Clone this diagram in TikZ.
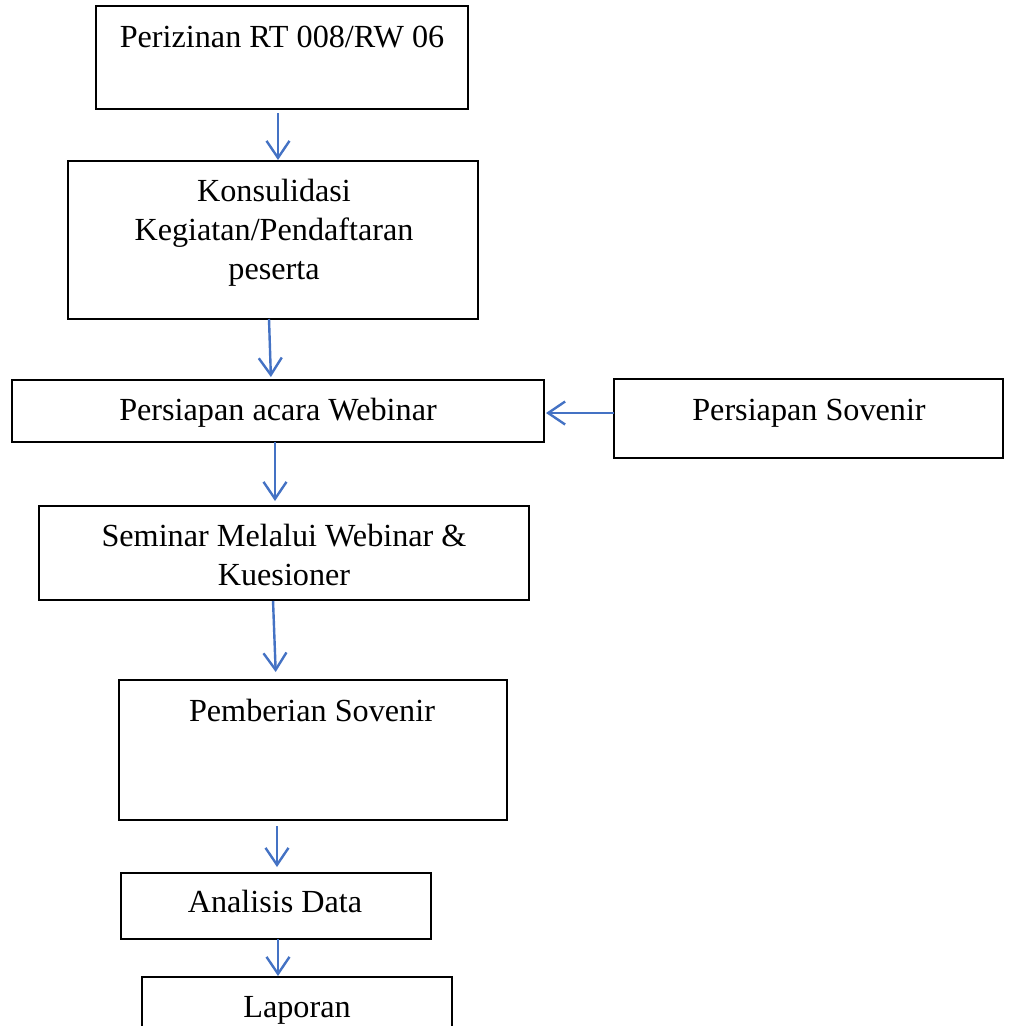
\documentclass[tikz,border=0pt]{standalone}
\usepackage{fontspec}
\setmainfont{Liberation Serif}
\usetikzlibrary{arrows.meta}
\definecolor{arrowblue}{HTML}{4472C4}
\tikzset{
  flowbox/.style={draw=black, line width=2pt, inner sep=0pt, outer sep=0pt, fill=none},
  flowtxt/.style={inner sep=0pt, outer sep=0pt, align=center, anchor=base, font=\fontsize{32.2}{39}\selectfont},
  flowarr/.style={draw=arrowblue, line width=2.4pt, -{Straight Barb[length=17pt,width=23pt]}}
}
\begin{document}
\begin{tikzpicture}[x=1pt,y=-1pt]
\clip (0,0) rectangle (1011,1026);
\fill[white] (0,0) rectangle (1011,1026);
% boxes
\node[flowbox, minimum width=372pt, minimum height=103pt] (b1) at (282,57.5) {};
\node[flowbox, minimum width=410pt, minimum height=158pt] (b2) at (273,240) {};
\node[flowbox, minimum width=532pt, minimum height=62pt] (b3) at (278,411) {};
\node[flowbox, minimum width=389pt, minimum height=79pt] (b4) at (808.5,418.5) {};
\node[flowbox, minimum width=490pt, minimum height=94pt] (b5) at (284,553) {};
\node[flowbox, minimum width=388pt, minimum height=140pt] (b6) at (313,750) {};
\node[flowbox, minimum width=310pt, minimum height=66pt] (b7) at (276,906) {};
\node[flowbox, minimum width=310pt, minimum height=120pt] (b8) at (297,1037) {};
% texts (anchor base = baseline of the last line)
\node[flowtxt] (t1) at (282,47) {Perizinan RT 008/RW 06};
\node[flowtxt] (t2) at (274,279) {Konsulidasi\\Kegiatan/Pendaftaran\\peserta};
\node[flowtxt] (t3) at (278,420) {Persiapan acara Webinar};
\node[flowtxt] (t4) at (809,420) {Persiapan Sovenir};
\node[flowtxt] (t5) at (284,585) {Seminar Melalui Webinar \&\\Kuesioner};
\node[flowtxt] (t6) at (312,721) {Pemberian Sovenir};
\node[flowtxt] (t7) at (275,912) {Analisis Data};
\node[flowtxt] (t8) at (297,1017) {Laporan};
% connectors
\draw[flowarr, shorten <=4pt, shorten >=1pt] ([xshift=-4pt]b1.south) -- ([xshift=5pt]b2.north);
\draw[flowarr, shorten >=3pt] ([xshift=-4pt]b2.south) -- ([xshift=-7pt]b3.north);
\draw[flowarr, shorten >=5pt] ([xshift=-3pt]b3.south) -- ([xshift=-9pt]b5.north);
\draw[flowarr, shorten <=1pt, shorten >=8pt] ([xshift=-11pt]b5.south) -- ([xshift=-37pt]b6.north);
\draw[flowarr, shorten <=6pt, shorten >=6pt] ([xshift=-36pt]b6.south) -- ([xshift=1pt]b7.north);
\draw[flowarr, shorten >=1pt] ([xshift=2pt]b7.south) -- ([xshift=-19pt]b8.north);
\draw[flowarr, shorten >=2pt] ([yshift=5.5pt]b4.west) -- ([yshift=-2pt]b3.east);
\end{tikzpicture}
\end{document}
